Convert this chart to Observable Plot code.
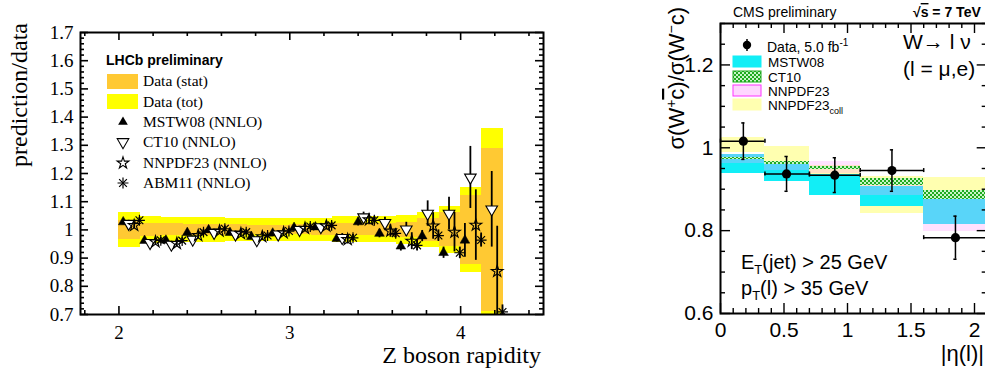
<!DOCTYPE html>
<html><head><meta charset="utf-8">
<script src="https://cdn.jsdelivr.net/npm/d3@7"></script>
<script src="https://cdn.jsdelivr.net/npm/@observablehq/plot@0.6"></script>
<style>
html,body{margin:0;padding:0;background:#fff;}
body{width:985px;height:372px;overflow:hidden;position:relative;}
#left,#right{position:absolute;top:0;}
#left{left:0;width:560px;}
#right{left:620px;width:390px;}
#left svg,#right svg{max-width:none !important;}
#overlay{position:absolute;left:0;top:0;pointer-events:none;}
</style></head><body>
<svg width="0" height="0" style="position:absolute"><defs>
<pattern id="chk" width="4" height="4" patternUnits="userSpaceOnUse">
<rect width="4" height="4" fill="#c8f5c8"/><rect width="2" height="2" fill="#1faa1f"/><rect x="2" y="2" width="2" height="2" fill="#1faa1f"/>
</pattern></defs></svg>
<div id="left"></div>
<div id="right"></div>
<svg id="overlay" width="985" height="372"></svg>
<script>
// ===== LEFT PANEL DATA: LHCb Z boson rapidity, prediction/data =====
const lhcbBinLo = [2.0,2.125,2.25,2.375,2.5,2.625,2.75,2.875,3.0,3.125,3.25,3.375,3.5,3.625,3.75,3.875,4.0,4.125];
const lhcbBinWidth = 0.125;
const lhcbStat = [0.033,0.024,0.021,0.020,0.020,0.018,0.017,0.017,0.018,0.019,0.021,0.021,0.022,0.028,0.040,0.060,0.123,0.290];
const lhcbTot  = [0.063,0.047,0.045,0.044,0.044,0.041,0.040,0.040,0.040,0.041,0.046,0.046,0.046,0.050,0.061,0.083,0.150,0.360];
const mstw08   = [1.028,0.962,0.963,0.990,1.000,0.990,0.976,0.988,1.008,1.010,0.969,1.028,0.987,0.942,0.978,0.919,0.963,null];
const mstw08Err= [0.010,0.010,0.010,0.010,0.010,0.010,0.010,0.010,0.011,0.011,0.012,0.014,0.015,0.017,0.020,0.020,0.060,null];
const ct10     = [1.022,0.954,0.948,0.966,0.990,0.984,0.964,0.984,1.000,1.010,0.972,1.045,1.025,1.002,1.058,1.058,1.186,1.073];
const ct10Err  = [0.012,0.012,0.012,0.012,0.012,0.012,0.012,0.012,0.013,0.013,0.015,0.018,0.020,0.025,0.045,0.058,0.110,0.134];
const nnpdf23  = [1.016,0.958,0.952,0.980,0.996,0.987,0.976,0.990,1.006,1.014,0.966,1.036,0.996,0.960,1.014,0.992,1.017,0.853];
const nnpdf23Err=[0.012,0.012,0.012,0.012,0.012,0.012,0.012,0.012,0.013,0.014,0.016,0.018,0.022,0.030,0.047,0.070,0.125,0.160];
const abm11    = [1.034,0.963,0.962,0.992,1.004,0.992,0.980,0.996,1.012,1.016,0.972,1.034,0.988,0.945,0.980,0.919,0.964,0.709];
const abm11Err = [0.010,0.010,0.010,0.010,0.010,0.010,0.010,0.010,0.011,0.011,0.012,0.014,0.016,0.018,0.020,0.020,0.025,0.025];
const lhcbXTicks = [2, 3, 4];
const lhcbYTicks = [0.7,0.8,0.9,1.0,1.1,1.2,1.3,1.4,1.5,1.6,1.7];

// ===== RIGHT PANEL DATA: CMS W+c ratio vs |eta| =====
const etaEdges = [0, 0.35, 0.7, 1.1, 1.6, 2.1];
const cmsDataX = [0.18, 0.52, 0.90, 1.35, 1.85];
const cmsDataY = [1.016, 0.937, 0.934, 0.945, 0.783];
const cmsDataErr = [0.044, 0.042, 0.042, 0.050, 0.052];
const mstwLo  = [0.937, 0.919, 0.885, 0.859, 0.815];
const mstwHi  = [0.985, 0.965, 0.935, 0.907, 0.875];
const ct10Lo  = [0.971, 0.960, 0.948, 0.909, 0.876];
const ct10Hi  = [0.977, 0.967, 0.956, 0.925, 0.897];
const nnpdfLo = [0.962, 0.945, 0.937, 0.885, 0.797];
const nnpdfHi = [0.985, 0.968, 0.968, 0.909, 0.875];
const collLo  = [0.989, 0.965, 0.935, 0.841, 0.865];
const collHi  = [1.026, 1.002, 0.958, 0.931, 0.928];
const cmsXTicks = [0, 0.5, 1, 1.5, 2];
const cmsYTicks = [0.6, 0.8, 1.0, 1.2];

// ---------- helpers ----------
const fmt = d => String(Math.round(d * 100) / 100);
const r1 = v => Math.round(v * 1000) / 1000;
function minorTicks(a, b, step, majors) {
  const out = [];
  for (let v = a; v <= b + 1e-9; v += step) {
    const rv = r1(v);
    if (!majors.some(m => Math.abs(m - rv) < 1e-6)) out.push(rv);
  }
  return out;
}
function tickRules(o) {
  const {xd, yd, xMaj, xMin, yMaj, yMin, pxX, pxY, maj, min, sw, top, right} = o;
  const s = {stroke: "black", strokeWidth: sw};
  const m = [];
  const addX = (arr, len) => {
    m.push(Plot.ruleX(arr, {x: d => d, y1: yd[0], y2: yd[0] + len / pxY, ...s}));
    if (top) m.push(Plot.ruleX(arr, {x: d => d, y1: yd[1] - len / pxY, y2: yd[1], ...s}));
  };
  const addY = (arr, len) => {
    m.push(Plot.ruleY(arr, {y: d => d, x1: xd[0], x2: xd[0] + len / pxX, ...s}));
    if (right) m.push(Plot.ruleY(arr, {y: d => d, x1: xd[1] - len / pxX, x2: xd[1], ...s}));
  };
  addX(xMaj, maj); addX(xMin, min); addY(yMaj, maj); addY(yMin, min);
  return m;
}

// ---------- LEFT PLOT ----------
{
  const W = 560, H = 372, ml = 80, mr = 17, mt = 32, mb = 58;
  const xd = [1.775, 4.485], yd = [0.7, 1.7];
  const pxX = (W - ml - mr) / (xd[1] - xd[0]), pxY = (H - mt - mb) / (yd[1] - yd[0]);
  const bands = lhcbBinLo.map((lo, i) => ({x1: lo, x2: lo + lhcbBinWidth, stat: lhcbStat[i], tot: lhcbTot[i]}));
  const offsets = [0.025, 0.057, 0.089, 0.12];
  const sets = [[mstw08, mstw08Err], [ct10, ct10Err], [nnpdf23, nnpdf23Err], [abm11, abm11Err]];
  const preds = [];
  sets.forEach(([v, e], k) => lhcbBinLo.forEach((lo, i) => {
    if (v[i] != null) preds.push({k, x: lo + offsets[k], y: v[i], e: e[i]});
  }));
  const P = k => preds.filter(d => d.k === k);
  const chart = Plot.plot({
    width: W, height: H, marginLeft: ml, marginRight: mr, marginTop: mt, marginBottom: mb,
    style: {fontFamily: "'Liberation Serif', 'Times New Roman', serif", fontSize: "19px", color: "black", background: "transparent", maxWidth: "none"},
    x: {domain: xd, ticks: lhcbXTicks, tickSize: 0, tickPadding: 11, tickFormat: fmt, label: null},
    y: {domain: yd, ticks: lhcbYTicks, tickSize: 0, tickPadding: 7, tickFormat: fmt, label: null},
    marks: [
      Plot.rect(bands, {x1: "x1", x2: "x2", y1: d => 1 - d.tot, y2: d => 1 + d.tot, fill: "#ffff00", clip: true, shapeRendering: "crispEdges"}),
      Plot.rect(bands, {x1: "x1", x2: "x2", y1: d => 1 - d.stat, y2: d => 1 + d.stat, fill: "#ffc933", clip: true, shapeRendering: "crispEdges"}),
      ...tickRules({xd, yd, xMaj: lhcbXTicks, xMin: minorTicks(1.8, 4.4, 0.2, lhcbXTicks), yMaj: lhcbYTicks,
        yMin: minorTicks(0.72, 1.68, 0.02, lhcbYTicks), pxX, pxY, maj: 8, min: 4, sw: 1.6, top: true, right: true}),
      Plot.ruleX(preds, {x: "x", y1: d => d.y - d.e, y2: d => d.y + d.e, stroke: "black", strokeWidth: 1.8, clip: true}),
      Plot.dot(P(0), {x: "x", y: "y", symbol: "triangle", fill: "black", stroke: "black", strokeWidth: 0.5, r: 3.6}),
      Plot.dot(P(1), {x: "x", y: "y", symbol: "triangle", rotate: 180, fill: "white", stroke: "black", strokeWidth: 1.1, r: 4.3}),
      Plot.dot(P(2), {x: "x", y: "y", symbol: "star", fill: "none", stroke: "black", strokeWidth: 1.1, r: 3.7}),
      Plot.dot(P(3), {x: "x", y: "y", symbol: "plus", stroke: "black", strokeWidth: 1.2, r: 3.6, clip: true}),
      Plot.dot(P(3), {x: "x", y: "y", symbol: "times", stroke: "black", strokeWidth: 1.2, r: 3.6, clip: true}),
      Plot.frame({stroke: "black", strokeWidth: 2})
    ]
  });
  document.getElementById("left").appendChild(chart);
}

// ---------- RIGHT PLOT ----------
{
  const W = 390, H = 372, ml = 100, mr = 23.3, mt = 23, mb = 59;
  const xd = [0, 2.1], yd = [0.6, 1.3];
  const pxX = (W - ml - mr) / (xd[1] - xd[0]), pxY = (H - mt - mb) / (yd[1] - yd[0]);
  const bins = etaEdges.slice(0, -1).map((lo, i) => ({
    x1: lo, x2: etaEdges[i + 1],
    mLo: mstwLo[i], mHi: mstwHi[i], cLo: ct10Lo[i], cHi: ct10Hi[i],
    nLo: nnpdfLo[i], nHi: nnpdfHi[i], kLo: collLo[i], kHi: collHi[i]
  }));
  const pts = cmsDataX.map((x, i) => ({x, y: cmsDataY[i], e: cmsDataErr[i], xl: etaEdges[i], xh: etaEdges[i + 1]}));
  const capX = 1.6 / pxX, capY = 2 / pxY;
  const chart = Plot.plot({
    width: W, height: H, marginLeft: ml, marginRight: mr, marginTop: mt, marginBottom: mb,
    style: {fontFamily: "'Liberation Sans', Arial, Helvetica, sans-serif", fontSize: "21px", color: "black", background: "transparent", maxWidth: "none"},
    x: {domain: xd, ticks: cmsXTicks, tickSize: 0, tickPadding: 9, tickFormat: fmt, label: null},
    y: {domain: yd, ticks: cmsYTicks, tickSize: 0, tickPadding: 7, tickFormat: fmt, label: null},
    marks: [
      Plot.rect(bins, {x1: "x1", x2: "x2", y1: "kLo", y2: "kHi", fill: "#ffffb0", shapeRendering: "crispEdges"}),
      Plot.rect(bins, {x1: "x1", x2: "x2", y1: "mLo", y2: "mHi", fill: "#12eef6", shapeRendering: "crispEdges"}),
      Plot.rect(bins, {x1: "x1", x2: "x2", y1: "nLo", y2: "nHi", fill: "#ff9cff", fillOpacity: 0.3, shapeRendering: "crispEdges"}),
      Plot.rect(bins, {x1: "x1", x2: "x2", y1: "cLo", y2: "cHi", fill: "url(#chk)", shapeRendering: "crispEdges"}),
      ...tickRules({xd, yd, xMaj: cmsXTicks, xMin: minorTicks(0.1, 2.1, 0.1, cmsXTicks), yMaj: cmsYTicks,
        yMin: minorTicks(0.65, 1.3, 0.05, cmsYTicks), pxX, pxY, maj: 10, min: 5, sw: 1.4, top: true, right: true}),
      Plot.ruleY(pts, {y: "y", x1: "xl", x2: "xh", stroke: "black", strokeWidth: 1.5}),
      Plot.ruleX(pts, {x: "xl", y1: d => d.y - capY, y2: d => d.y + capY, stroke: "black", strokeWidth: 1.5}),
      Plot.ruleX(pts, {x: "xh", y1: d => d.y - capY, y2: d => d.y + capY, stroke: "black", strokeWidth: 1.5}),
      Plot.ruleX(pts, {x: "x", y1: d => d.y - d.e, y2: d => d.y + d.e, stroke: "black", strokeWidth: 1.5}),
      Plot.ruleY(pts, {y: d => d.y + d.e, x1: d => d.x - capX, x2: d => d.x + capX, stroke: "black", strokeWidth: 1.5}),
      Plot.ruleY(pts, {y: d => d.y - d.e, x1: d => d.x - capX, x2: d => d.x + capX, stroke: "black", strokeWidth: 1.5}),
      Plot.dot(pts, {x: "x", y: "y", r: 4.6, fill: "black"}),
      Plot.frame({stroke: "black", strokeWidth: 2})
    ]
  });
  document.getElementById("right").appendChild(chart);
}

// ---------- OVERLAY TEXT & LEGENDS ----------
{
  const ov = d3.select("#overlay");
  const serif = "'Liberation Serif', 'Times New Roman', serif";
  const sans = "'Liberation Sans', Arial, Helvetica, sans-serif";
  // left axis titles
  ov.append("text").attr("transform", "translate(27,23) rotate(-90)").attr("text-anchor", "end")
    .attr("font-family", serif).attr("font-size", 24).text("prediction/data");
  ov.append("text").attr("x", 541).attr("y", 363).attr("text-anchor", "end")
    .attr("font-family", serif).attr("font-size", 24).text("Z boson rapidity");
  // left legend
  ov.append("text").attr("x", 106).attr("y", 65).attr("font-family", sans).attr("font-weight", "bold")
    .attr("font-size", 14).text("LHCb preliminary");
  ov.append("rect").attr("x", 107).attr("y", 74).attr("width", 31).attr("height", 15).attr("fill", "#ffc933");
  ov.append("rect").attr("x", 107).attr("y", 94).attr("width", 31).attr("height", 15).attr("fill", "#ffff00");
  const leftRows = [["Data (stat)", 86], ["Data (tot)", 107], ["MSTW08 (NNLO)", 127], ["CT10 (NNLO)", 147], ["NNPDF23 (NNLO)", 168], ["ABM11 (NNLO)", 188]];
  leftRows.forEach(([t, y]) => ov.append("text").attr("x", 143).attr("y", y).attr("font-family", serif).attr("font-size", 15.5).text(t));
  const sym = (type, r) => d3.symbol(type, Math.PI * r * r)();
  ov.append("path").attr("d", sym(d3.symbolTriangle, 3.6)).attr("transform", "translate(123,122)").attr("fill", "black");
  ov.append("path").attr("d", sym(d3.symbolTriangle, 4.3)).attr("transform", "translate(123,142) rotate(180)").attr("fill", "white").attr("stroke", "black").attr("stroke-width", 1.1);
  ov.append("path").attr("d", sym(d3.symbolStar, 3.7)).attr("transform", "translate(123,163)").attr("fill", "none").attr("stroke", "black").attr("stroke-width", 1.1);
  ov.append("path").attr("d", sym(d3.symbolPlus, 3.6)).attr("transform", "translate(123,183)").attr("fill", "none").attr("stroke", "black").attr("stroke-width", 1.2);
  ov.append("path").attr("d", sym(d3.symbolTimes, 3.6)).attr("transform", "translate(123,183)").attr("fill", "none").attr("stroke", "black").attr("stroke-width", 1.2);

  // right panel texts
  ov.append("text").attr("x", 733).attr("y", 17).attr("font-family", sans).attr("font-size", 14).text("CMS preliminary");
  const rs = ov.append("text").attr("x", 913).attr("y", 17).attr("font-family", sans).attr("font-size", 14).attr("font-weight", "bold");
  rs.append("tspan").text("\u221A");
  rs.append("tspan").attr("text-decoration", "overline").text("s");
  rs.append("tspan").text(" = 7 TeV");
  const yt = ov.append("text").attr("transform", "translate(684,7) rotate(-90)").attr("text-anchor", "end")
    .attr("font-family", sans).attr("font-size", 22);
  yt.append("tspan").text("\u03C3(W");
  yt.append("tspan").attr("dy", -8).attr("font-size", 14).text("+");
  yt.append("tspan").attr("dy", 8).attr("text-decoration", "overline").text("c");
  yt.append("tspan").text(")/\u03C3(W");
  yt.append("tspan").attr("dy", -8).attr("font-size", 14).text("\u2212");
  yt.append("tspan").attr("dy", 8).text("c)");
  ov.append("text").attr("x", 984).attr("y", 361).attr("text-anchor", "end").attr("font-family", sans).attr("font-size", 22).text("|\u03B7(l)|");
  ov.append("text").attr("x", 903).attr("y", 49).attr("font-family", sans).attr("font-size", 21).text("W\u2192 l \u03BD");
  ov.append("text").attr("x", 903).attr("y", 76).attr("font-family", sans).attr("font-size", 21).text("(l = \u03BC,e)");
  const et = ov.append("text").attr("x", 741).attr("y", 269).attr("font-family", sans).attr("font-size", 20);
  et.append("tspan").text("E");
  et.append("tspan").attr("dy", 5).attr("font-size", 13).text("T");
  et.append("tspan").attr("dy", -5).text("(jet) > 25 GeV");
  const pt = ov.append("text").attr("x", 741).attr("y", 295).attr("font-family", sans).attr("font-size", 20);
  pt.append("tspan").text("p");
  pt.append("tspan").attr("dy", 5).attr("font-size", 13).text("T");
  pt.append("tspan").attr("dy", -5).text("(l) > 35 GeV");
  // right legend
  ov.append("line").attr("x1", 747).attr("x2", 747).attr("y1", 39).attr("y2", 51).attr("stroke", "black").attr("stroke-width", 1.5);
  ov.append("circle").attr("cx", 747).attr("cy", 45).attr("r", 4.2).attr("fill", "black");
  const dl = ov.append("text").attr("x", 767).attr("y", 52).attr("font-family", sans).attr("font-size", 14);
  dl.append("tspan").text("Data, 5.0 fb");
  dl.append("tspan").attr("dy", -6).attr("font-size", 10).text("-1");
  const boxes = [
    ["MSTW08", 56, "#12eef6", "#12eef6"],
    ["CT10", 71, "url(#chk)", "#1faa1f"],
    ["NNPDF23", 85, "#ffd6ff", "#ff33ff"],
    ["NNPDF23", 99, "#ffffb0", "#ffffb0"]
  ];
  boxes.forEach(([t, y, f, s], i) => {
    ov.append("rect").attr("x", 733).attr("y", y).attr("width", 28).attr("height", 11).attr("fill", f).attr("stroke", s).attr("stroke-width", 1);
    const tx = ov.append("text").attr("x", 768).attr("y", y + 11).attr("font-family", sans).attr("font-size", 13.5);
    tx.append("tspan").text(t);
    if (i === 3) tx.append("tspan").attr("dy", 4).attr("font-size", 9).text("coll");
  });
}
</script>
</body></html>
